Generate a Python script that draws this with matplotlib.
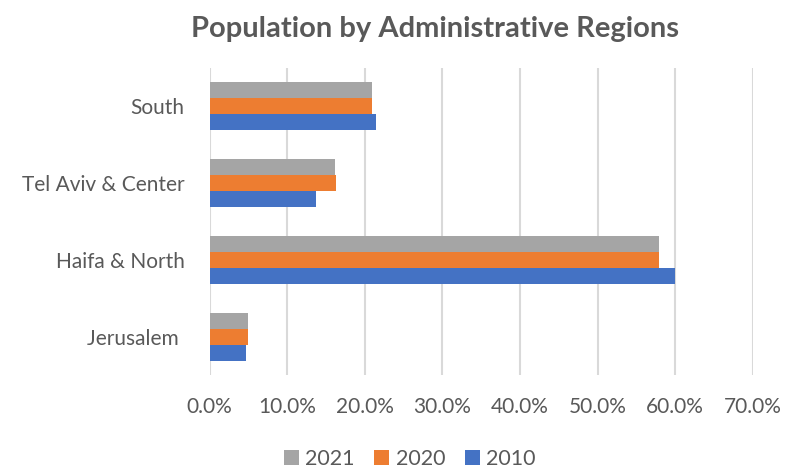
import numpy as np
import matplotlib.pyplot as plt

plt.rcParams['font.family'] = ['Lato', 'DejaVu Sans']

regions = ['Jerusalem ', 'Haifa & North', 'Tel Aviv & Center', 'South']
share_2021 = [0.050, 0.579, 0.162, 0.209]
share_2020 = [0.049, 0.579, 0.163, 0.209]
share_2010 = [0.047, 0.600, 0.137, 0.215]

years = ['2021', '2020', '2010']
colors = ['#a5a5a5', '#ed7d31', '#4472c4']
text_color = '#595959'

fig = plt.figure(figsize=(7.85, 4.69), dpi=100)
ax = fig.add_axes([0.267, 0.2004, 0.692, 0.655])

y = np.arange(len(regions))
h = 0.208
for i, (vals, year, c) in enumerate(zip([share_2021, share_2020, share_2010], years, colors)):
    ax.barh(y + (1 - i) * h, vals, height=h, color=c, label=year, zorder=3)

ax.set_xlim(0, 0.7)
ax.set_ylim(-0.5, len(regions) - 0.5)
ax.set_xticks(np.arange(0, 0.71, 0.1))
ax.set_xticklabels([f'{v * 100:.1f}%' for v in np.arange(0, 0.71, 0.1)])
ax.set_yticks(y)
ax.set_yticklabels(regions)

ax.grid(axis='x', color='#d9d9d9', linewidth=1.5, zorder=0)
for s in ax.spines.values():
    s.set_visible(False)
ax.tick_params(axis='both', length=0, labelsize=15, colors=text_color)
ax.tick_params(axis='x', pad=16)
ax.tick_params(axis='y', pad=18)

fig.suptitle('Population by Administrative Regions', x=0.554, y=0.965,
             fontsize=21, fontweight='bold', color=text_color)

fig.legend(loc='center', bbox_to_anchor=(0.522, 0.022), ncol=3, frameon=False,
           fontsize=15.5, labelcolor=text_color, handlelength=0.7, handleheight=0.7,
           handletextpad=0.3, columnspacing=0.9)

fig.savefig('out.png', dpi=100)
